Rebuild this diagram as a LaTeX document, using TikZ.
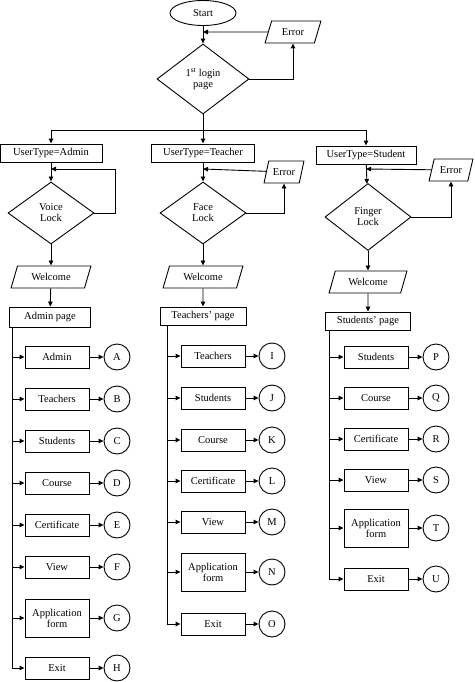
\documentclass[tikz,border=0pt]{standalone}
\usepackage{fontspec}
\setmainfont{Liberation Serif}
\usetikzlibrary{shapes.geometric,arrows.meta}
\begin{document}
\begin{tikzpicture}[x=1pt,y=-1pt,line width=0.9pt,font=\fontsize{10.5}{11}\selectfont,
 >={Triangle[length=5pt,width=4.5pt]},
 box/.style={draw,minimum width=64pt,minimum height=22pt,inner sep=1pt,align=center},
 tbox/.style={box,minimum height=38pt},
 cir/.style={draw,circle,minimum size=26pt,inner sep=0pt},
 par/.style={draw,trapezium,trapezium left angle=70,trapezium right angle=110,minimum height=22pt,inner sep=2pt,trapezium stretches=true},
 dia/.style={draw,diamond,aspect=1.35,inner sep=0pt,align=center},
 hdr/.style={draw,minimum height=18pt,inner sep=1pt}]
\useasboundingbox (0,0) rectangle (474,682);
\node[draw,ellipse,minimum width=66pt,minimum height=25pt] (start) at (203,13) {Start};
\node[par,minimum width=56pt] (err) at (293,32) {Error};
\node[dia,minimum width=92pt,minimum height=70pt] (login) at (203,79) {1\textsuperscript{st} login\\page};
\node[hdr,minimum width=102pt] (ua) at (51,153) {UserType=Admin};
\node[hdr,minimum width=103pt] (ut) at (203,153) {UserType=Teacher};
\node[hdr,minimum width=100pt] (us) at (366,155) {UserType=Student};
\node[par,minimum width=40pt] (et) at (284,172) {Error};
\node[par,minimum width=44pt] (es) at (451,170) {Error};
\node[dia,minimum width=86pt,minimum height=62pt] (va) at (51,213) {Voice\\Lock};
\node[dia,minimum width=86pt,minimum height=62pt] (ft) at (203,213) {Face\\Lock};
\node[dia,minimum width=86pt,minimum height=67pt] (fs) at (368,217) {Finger\\Lock};
\node[par,minimum width=80pt] (wa) at (51,277) {Welcome};
\node[par,minimum width=80pt] (wt) at (203,277) {Welcome};
\node[par,minimum width=78pt] (ws) at (368,282) {Welcome};
\node[hdr,minimum width=81pt,minimum height=20pt] (pa) at (50,317) {Admin page};
\node[hdr,minimum width=86pt] (pt) at (203,316) {Teachers’ page};
\node[hdr,minimum width=85pt] (ps) at (368,321) {Students’ page};
% connectors top
\coordinate (c1) at (203,32);
\draw[->] (start) -- (login);
\draw[->] (err) -- (c1);
\draw[->] (login.east) -| (err.south);
\coordinate (sp) at (203,130);
\draw (login.south) -- (sp);
\draw[->] (sp) -| (ua.north);
\draw[->] (sp) -- (ut.north);
\draw[->] (sp) -| (us.north);
\draw[->] (ua) -- (va);
\draw[->] (ut) -- (ft);
\draw[->] (us) -- (fs);
\coordinate (la) at (51,169);
\coordinate (lt) at (203,169);
\coordinate (ls) at (366,169);
\draw[->] (va.east) -- ++(21,0) |- (la);
\draw[->] (ft.east) -| (et.south);
\draw[->] (et) -- (lt);
\draw[->] (fs.east) -| (es.south);
\draw[->] (es) -- (ls);
\draw[->] (va) -- (wa);
\draw[->] (ft) -- (wt);
\draw[->] (fs) -- (ws);
\draw[->] (wa) -- (pa);
\draw[->] (wt) -- (pt);
\draw[->] (ws) -- (ps);
% lists
\foreach \t/\y/\l/\s [count=\i] in {Admin/357/A/box,Teachers/399/B/box,Students/441/C/box,Course/483/D/box,Certificate/525/E/box,View/567/F/box,{Application\\form}/618/G/tbox,Exit/668/H/box}{
 \node[\s] (a\i) at (57,\y) {\t};
 \node[cir] (ac\i) at (117,\y) {\l};
 \coordinate (ab\i) at (12,\y);
 \draw[->] (ab\i) -- (a\i);
 \draw[->] (a\i) -- (ac\i);
}
\draw (pa.south -| ab8) -- (ab8);
\foreach \t/\y/\l/\s [count=\i] in {Teachers/356/I/box,Students/398/J/box,Course/440/K/box,Certificate/481/L/box,View/522/M/box,{Application\\form}/572/N/tbox,Exit/624/O/box}{
 \node[\s] (t\i) at (213,\y) {\t};
 \node[cir] (tc\i) at (272,\y) {\l};
 \coordinate (tb\i) at (167,\y);
 \draw[->] (tb\i) -- (t\i);
 \draw[->] (t\i) -- (tc\i);
}
\draw (pt.south -| tb7) -- (tb7);
\foreach \t/\y/\l/\s [count=\i] in {Students/357/P/box,Course/398/Q/box,Certificate/439/R/box,View/480/S/box,{Application\\form}/528/T/tbox,Exit/579/U/box}{
 \node[\s] (s\i) at (376,\y) {\t};
 \node[cir] (sc\i) at (436,\y) {\l};
 \coordinate (sb\i) at (329,\y);
 \draw[->] (sb\i) -- (s\i);
 \draw[->] (s\i) -- (sc\i);
}
\draw (ps.south -| sb6) -- (sb6);
\end{tikzpicture}
\end{document}
